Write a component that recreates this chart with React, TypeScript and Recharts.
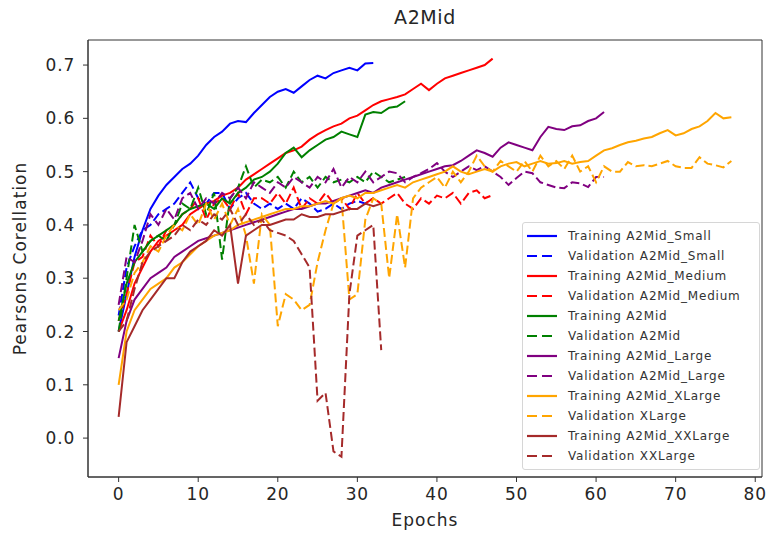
import { LineChart, Line, XAxis, YAxis, ReferenceArea } from 'recharts';

// Pearson correlation per epoch
const trainSmall = [0.20, 0.27, 0.34, 0.39, 0.43, 0.455, 0.475, 0.49, 0.505, 0.515, 0.53, 0.55, 0.565, 0.575, 0.59, 0.595, 0.593, 0.61, 0.625, 0.64, 0.65, 0.655, 0.648, 0.66, 0.672, 0.68, 0.675, 0.685, 0.69, 0.695, 0.69, 0.703, 0.704];
const valSmall = [0.23, 0.32, 0.36, 0.39, 0.40, 0.42, 0.43, 0.44, 0.46, 0.48, 0.45, 0.44, 0.46, 0.46, 0.43, 0.45, 0.46, 0.44, 0.43, 0.44, 0.43, 0.44, 0.43, 0.45, 0.44, 0.425, 0.43, 0.44, 0.43, 0.44, 0.445, 0.44, 0.45];
const trainMedium = [0.20, 0.24, 0.29, 0.32, 0.35, 0.37, 0.38, 0.39, 0.40, 0.42, 0.43, 0.44, 0.445, 0.455, 0.46, 0.47, 0.485, 0.495, 0.505, 0.515, 0.525, 0.535, 0.54, 0.547, 0.56, 0.57, 0.578, 0.585, 0.59, 0.60, 0.605, 0.615, 0.625, 0.632, 0.636, 0.64, 0.645, 0.655, 0.665, 0.653, 0.665, 0.675, 0.68, 0.685, 0.69, 0.695, 0.70, 0.712];
const valMedium = [0.22, 0.27, 0.33, 0.34, 0.38, 0.36, 0.39, 0.40, 0.42, 0.43, 0.45, 0.41, 0.44, 0.45, 0.43, 0.46, 0.42, 0.45, 0.45, 0.44, 0.46, 0.44, 0.47, 0.43, 0.45, 0.44, 0.46, 0.44, 0.45, 0.43, 0.46, 0.44, 0.45, 0.44, 0.45, 0.46, 0.44, 0.43, 0.45, 0.44, 0.455, 0.45, 0.46, 0.44, 0.46, 0.465, 0.45, 0.456];
const trainMid = [0.22, 0.29, 0.33, 0.35, 0.37, 0.38, 0.39, 0.40, 0.42, 0.43, 0.435, 0.44, 0.43, 0.45, 0.44, 0.46, 0.47, 0.485, 0.49, 0.50, 0.515, 0.535, 0.545, 0.527, 0.54, 0.55, 0.56, 0.565, 0.575, 0.57, 0.565, 0.607, 0.612, 0.61, 0.62, 0.622, 0.632];
const valMid = [0.20, 0.30, 0.40, 0.35, 0.37, 0.38, 0.37, 0.40, 0.44, 0.43, 0.47, 0.42, 0.46, 0.335, 0.45, 0.47, 0.51, 0.47, 0.485, 0.48, 0.49, 0.47, 0.50, 0.48, 0.49, 0.47, 0.49, 0.48, 0.485, 0.48, 0.49, 0.48, 0.50, 0.49, 0.48, 0.485, 0.49];
const trainLarge = [0.15, 0.22, 0.26, 0.28, 0.30, 0.31, 0.32, 0.34, 0.35, 0.36, 0.37, 0.375, 0.38, 0.385, 0.39, 0.395, 0.40, 0.405, 0.41, 0.415, 0.42, 0.425, 0.43, 0.43, 0.435, 0.44, 0.44, 0.445, 0.45, 0.455, 0.46, 0.465, 0.46, 0.47, 0.475, 0.48, 0.485, 0.49, 0.495, 0.50, 0.505, 0.51, 0.512, 0.52, 0.53, 0.54, 0.535, 0.528, 0.545, 0.555, 0.55, 0.545, 0.54, 0.565, 0.584, 0.58, 0.578, 0.585, 0.587, 0.595, 0.60, 0.612];
const valLarge = [0.25, 0.34, 0.33, 0.37, 0.42, 0.40, 0.43, 0.41, 0.45, 0.46, 0.43, 0.45, 0.44, 0.46, 0.45, 0.47, 0.45, 0.48, 0.47, 0.46, 0.48, 0.47, 0.49, 0.48, 0.47, 0.49, 0.48, 0.505, 0.47, 0.49, 0.48, 0.50, 0.48, 0.49, 0.50, 0.497, 0.48, 0.49, 0.497, 0.505, 0.516, 0.50, 0.49, 0.50, 0.51, 0.503, 0.51, 0.50, 0.49, 0.475, 0.488, 0.50, 0.497, 0.48, 0.475, 0.47, 0.469, 0.48, 0.478, 0.471, 0.49, 0.49];
const trainXLarge = [0.10, 0.20, 0.24, 0.26, 0.28, 0.29, 0.30, 0.32, 0.33, 0.345, 0.36, 0.37, 0.38, 0.385, 0.39, 0.40, 0.405, 0.41, 0.415, 0.42, 0.425, 0.43, 0.43, 0.435, 0.435, 0.44, 0.445, 0.44, 0.45, 0.455, 0.45, 0.46, 0.46, 0.465, 0.47, 0.475, 0.47, 0.48, 0.485, 0.49, 0.495, 0.50, 0.51, 0.50, 0.495, 0.50, 0.505, 0.50, 0.51, 0.515, 0.518, 0.51, 0.515, 0.52, 0.515, 0.516, 0.52, 0.515, 0.518, 0.52, 0.53, 0.54, 0.544, 0.55, 0.555, 0.558, 0.562, 0.565, 0.572, 0.578, 0.568, 0.572, 0.58, 0.585, 0.595, 0.61, 0.60, 0.602];
const valXLarge = [0.24, 0.26, 0.31, 0.33, 0.36, 0.35, 0.38, 0.40, 0.39, 0.42, 0.40, 0.44, 0.41, 0.44, 0.40, 0.43, 0.38, 0.29, 0.42, 0.40, 0.21, 0.27, 0.26, 0.24, 0.25, 0.33, 0.39, 0.44, 0.45, 0.26, 0.27, 0.41, 0.45, 0.44, 0.30, 0.42, 0.32, 0.45, 0.47, 0.48, 0.49, 0.47, 0.50, 0.48, 0.50, 0.53, 0.51, 0.50, 0.52, 0.51, 0.50, 0.52, 0.50, 0.53, 0.51, 0.52, 0.505, 0.53, 0.50, 0.51, 0.48, 0.51, 0.50, 0.50, 0.518, 0.51, 0.512, 0.51, 0.515, 0.52, 0.51, 0.507, 0.507, 0.527, 0.515, 0.512, 0.508, 0.52];
const trainXXLarge = [0.04, 0.18, 0.21, 0.24, 0.26, 0.28, 0.30, 0.30, 0.33, 0.35, 0.36, 0.37, 0.39, 0.38, 0.40, 0.29, 0.38, 0.39, 0.40, 0.40, 0.405, 0.41, 0.41, 0.42, 0.415, 0.415, 0.42, 0.42, 0.425, 0.43, 0.43, 0.44, 0.435, 0.44];
const valXXLarge = [0.20, 0.22, 0.28, 0.33, 0.35, 0.36, 0.37, 0.38, 0.40, 0.39, 0.41, 0.40, 0.42, 0.41, 0.43, 0.40, 0.42, 0.40, 0.41, 0.39, 0.385, 0.38, 0.37, 0.345, 0.32, 0.07, 0.085, -0.025, -0.035, 0.27, 0.38, 0.39, 0.40, 0.165];

const xTicks = [0, 10, 20, 30, 40, 50, 60, 70, 80];
const yTicks = [0.0, 0.1, 0.2, 0.3, 0.4, 0.5, 0.6, 0.7];
const xDomain = [-3.85, 80.85];
const yDomain = [-0.073, 0.747];

const series = [
  { key: 'trainSmall', name: 'Training A2Mid_Small', values: trainSmall, color: 'blue', dashed: false },
  { key: 'valSmall', name: 'Validation A2Mid_Small', values: valSmall, color: 'blue', dashed: true },
  { key: 'trainMedium', name: 'Training A2Mid_Medium', values: trainMedium, color: 'red', dashed: false },
  { key: 'valMedium', name: 'Validation A2Mid_Medium', values: valMedium, color: 'red', dashed: true },
  { key: 'trainMid', name: 'Training A2Mid', values: trainMid, color: 'green', dashed: false },
  { key: 'valMid', name: 'Validation A2Mid', values: valMid, color: 'green', dashed: true },
  { key: 'trainLarge', name: 'Training A2Mid_Large', values: trainLarge, color: 'purple', dashed: false },
  { key: 'valLarge', name: 'Validation A2Mid_Large', values: valLarge, color: 'purple', dashed: true },
  { key: 'trainXLarge', name: 'Training A2Mid_XLarge', values: trainXLarge, color: 'orange', dashed: false },
  { key: 'valXLarge', name: 'Validation XLarge', values: valXLarge, color: 'orange', dashed: true },
  { key: 'trainXXLarge', name: 'Training A2Mid_XXLarge', values: trainXXLarge, color: 'brown', dashed: false },
  { key: 'valXXLarge', name: 'Validation XXLarge', values: valXXLarge, color: 'brown', dashed: true },
];

const maxLen = Math.max(...series.map(s => s.values.length));
const data = Array.from({ length: maxLen }, (_, epoch) => {
  const row: Record<string, number | undefined> = { epoch };
  series.forEach(s => { row[s.key] = s.values[epoch]; });
  return row;
});

const font = 'DejaVu Sans, sans-serif';
const tickStyle = { fill: '#262626', fontSize: 17, fontFamily: font, letterSpacing: 0.8 };
const labelStyle = { fill: '#262626', fontSize: 17, fontFamily: font, letterSpacing: 1 };

// legend drawn as an overlay so it doesn't shrink the plot area
const LegendBox = () => (
  <div style={{
    position: 'absolute', left: 522, top: 222, width: 238,
    border: '1px solid #d6d6d6', borderRadius: 3, background: 'rgba(255,255,255,0.85)',
    padding: '3px 4px', fontFamily: font, fontSize: 12, letterSpacing: 0.8, color: '#333', boxSizing: 'border-box',
  }}>
    {series.map(s => (
      <div key={s.key} style={{ display: 'flex', alignItems: 'center', height: 20 }}>
        <svg width={30} height={6}>
          <line x1={0} y1={3} x2={30} y2={3} stroke={s.color} strokeWidth={2.2}
            strokeDasharray={s.dashed ? '10 5' : undefined} />
        </svg>
        <span style={{ marginLeft: 11, whiteSpace: 'nowrap' }}>{s.name}</span>
      </div>
    ))}
  </div>
);

export default function App() {
  return (
    <div style={{ position: 'absolute', left: 0, top: 0, width: 766, height: 540, background: '#fff' }}>
      <div style={{
        position: 'absolute', left: 88, width: 674, top: 6, textAlign: 'center',
        fontFamily: font, fontSize: 19, letterSpacing: 0.6, color: '#262626',
      }}>A2Mid</div>
      <LineChart width={766} height={540} data={data} margin={{ top: 40, right: 4, bottom: 13, left: 10 }}>
        <XAxis
          dataKey="epoch" type="number" domain={xDomain} ticks={xTicks} allowDataOverflow
          stroke="#333" tickSize={5} tickMargin={6} height={50} tick={tickStyle}
          label={{ value: 'Epochs', position: 'insideBottom', offset: 1, style: labelStyle }}
        />
        <YAxis
          type="number" domain={yDomain} ticks={yTicks} allowDataOverflow width={78}
          stroke="#333" tickSize={5} tickMargin={8} tick={tickStyle}
          tickFormatter={(v: number) => v.toFixed(1)}
          label={{ value: 'Pearsons Corellation', angle: -90, position: 'insideLeft', offset: 10, style: { ...labelStyle, textAnchor: 'middle' } }}
        />
        {series.map(s => (
          <Line
            key={s.key} dataKey={s.key} name={s.name} type="linear" stroke={s.color}
            strokeWidth={2} strokeDasharray={s.dashed ? '9 4' : undefined}
            dot={false} activeDot={false} isAnimationActive={false}
          />
        ))}
        <ReferenceArea x1={xDomain[0]} x2={xDomain[1]} y1={yDomain[0]} y2={yDomain[1]} fill="none" stroke="#333" strokeWidth={1} />
      </LineChart>
      <LegendBox />
    </div>
  );
}
